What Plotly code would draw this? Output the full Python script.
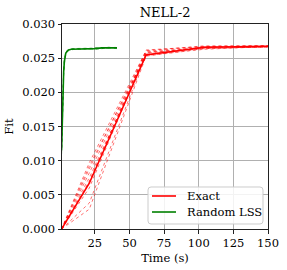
import plotly.graph_objects as go

# ---- data ----
exact_mean_time = [1.0, 21.0, 62.0, 104.0, 150.0]
exact_mean_fit = [0.0, 0.0067, 0.02548, 0.02660, 0.02675]

exact_run_time = [1.0, 21.0, 62.0, 104.0, 150.0]
exact_runs = [
    [0.0, 0.0029, 0.0253, 0.0264, 0.0267],
    [0.0, 0.0038, 0.0256, 0.0265, 0.0266],
    [0.0, 0.0060, 0.0258, 0.0266, 0.0268],
    [0.0, 0.0068, 0.0262, 0.0267, 0.0268],
    [0.0, 0.0075, 0.0254, 0.0263, 0.0267],
    [0.0, 0.0082, 0.0257, 0.0266, 0.0267],
    [0.0, 0.0088, 0.0260, 0.0267, 0.0268],
    [0.0, 0.0092, 0.0255, 0.0265, 0.0266],
    [0.0, 0.0097, 0.0261, 0.0268, 0.0268],
    [0.0, 0.0070, 0.0259, 0.0264, 0.0267],
]

lss_time = [1.0, 1.5, 2.0, 2.5, 3.0, 3.5, 4.0, 5.0, 6.0, 8.0, 10.0, 15.0, 20.0, 25.0, 30.0, 35.0, 41.0]
lss_mean_fit = [0.0115, 0.0165, 0.0205, 0.0230, 0.0245, 0.0253, 0.0257, 0.0260, 0.0262, 0.0263, 0.0263,
                0.0264, 0.0264, 0.0264, 0.0265, 0.0265, 0.0265]
lss_runs = [
    [0.0110, 0.0160, 0.0200, 0.0226, 0.0242, 0.0251, 0.0256, 0.0259, 0.0261, 0.0262, 0.0263,
     0.0263, 0.0264, 0.0263, 0.0264, 0.0265, 0.0264],
    [0.0120, 0.0170, 0.0210, 0.0234, 0.0248, 0.0255, 0.0258, 0.0261, 0.0263, 0.0264, 0.0264,
     0.0265, 0.0265, 0.0265, 0.0265, 0.0266, 0.0265],
    [0.0118, 0.0168, 0.0207, 0.0231, 0.0246, 0.0254, 0.0258, 0.0260, 0.0262, 0.0263, 0.0264,
     0.0264, 0.0263, 0.0265, 0.0264, 0.0265, 0.0266],
]

series_names = ["Exact", "Random LSS"]
x_ticks = [25, 50, 75, 100, 125, 150]
y_ticks = [0.000, 0.005, 0.010, 0.015, 0.020, 0.025, 0.030]

RED = "#ff0000"
GREEN = "#008000"
FONT = "DejaVu Serif"

fig = go.Figure()

for run in exact_runs:
    fig.add_trace(go.Scatter(x=exact_run_time, y=run, mode="lines",
                             line=dict(color=RED, width=0.7, dash="dot"),
                             opacity=0.8, showlegend=False, hoverinfo="skip"))
for run in lss_runs:
    fig.add_trace(go.Scatter(x=lss_time, y=run, mode="lines",
                             line=dict(color=GREEN, width=0.7, dash="dot"),
                             opacity=0.8, showlegend=False, hoverinfo="skip"))

fig.add_trace(go.Scatter(x=exact_mean_time, y=exact_mean_fit, mode="lines",
                         line=dict(color=RED, width=1.6), name=series_names[0], showlegend=False))
fig.add_trace(go.Scatter(x=lss_time, y=lss_mean_fit, mode="lines",
                         line=dict(color=GREEN, width=1.6), name=series_names[1], showlegend=False))

axis_common = dict(
    showline=True, mirror=True, linecolor="#222222", linewidth=1,
    showgrid=True, gridcolor="#b0b0b0", gridwidth=1,
    ticks="outside", ticklen=3.5, tickwidth=0.8, tickcolor="#222222",
    zeroline=False, automargin=False,
    tickfont=dict(family=FONT, size=11.5, color="#000000"),
)

# ---- legend (matplotlib-style, compact) drawn in paper coordinates ----
lx0, lx1, ly0, ly1, r = 0.4175, 0.9757, 0.0244, 0.2049, 0.0146
legend_path = (f"M {lx0 + r},{ly0} L {lx1 - r},{ly0} Q {lx1},{ly0} {lx1},{ly0 + r} "
               f"L {lx1},{ly1 - r} Q {lx1},{ly1} {lx1 - r},{ly1} L {lx0 + r},{ly1} "
               f"Q {lx0},{ly1} {lx0},{ly1 - r} L {lx0},{ly0 + r} Q {lx0},{ly0} {lx0 + r},{ly0} Z")
shapes = [dict(type="path", path=legend_path, xref="paper", yref="paper", layer="above",
               fillcolor="rgba(255,255,255,0.85)", line=dict(color="#cccccc", width=1))]
annotations = []
for name, color, yy in zip(series_names, [RED, GREEN], [0.161, 0.0829]):
    shapes.append(dict(type="line", xref="paper", yref="paper", layer="above",
                       x0=0.4369, x1=0.5534, y0=yy, y1=yy, line=dict(color=color, width=1.6)))
    annotations.append(dict(text=name, xref="paper", yref="paper", x=0.597, y=yy,
                            xanchor="left", yanchor="middle", showarrow=False,
                            font=dict(family=FONT, size=11.5, color="#000000")))

fig.update_layout(
    template="none",
    width=287, height=270,
    margin=dict(l=62, r=19, t=24, b=41, autoexpand=False),
    paper_bgcolor="white", plot_bgcolor="white",
    font=dict(family=FONT, size=11.5, color="#000000"),
    title=dict(text="NELL-2", x=0.575, xanchor="center", y=0.955, yanchor="middle",
               font=dict(family=FONT, size=13, color="#000000")),
    xaxis=dict(range=[1.3, 150], tickvals=x_ticks, ticktext=[str(v) for v in x_ticks],
               title=dict(text="Time (s)", font=dict(family=FONT, size=11.5), standoff=4),
               **axis_common),
    yaxis=dict(range=[0, 0.030], tickvals=y_ticks, ticktext=[f"{v:.3f}" for v in y_ticks],
               title=dict(text="Fit", font=dict(family=FONT, size=11.5), standoff=6),
               **axis_common),
    shapes=shapes,
    annotations=annotations,
    showlegend=False,
)

fig.write_html("out.html", config={"displayModeBar": False},
               post_script="document.body.style.margin='0';document.body.style.overflow='hidden';")
